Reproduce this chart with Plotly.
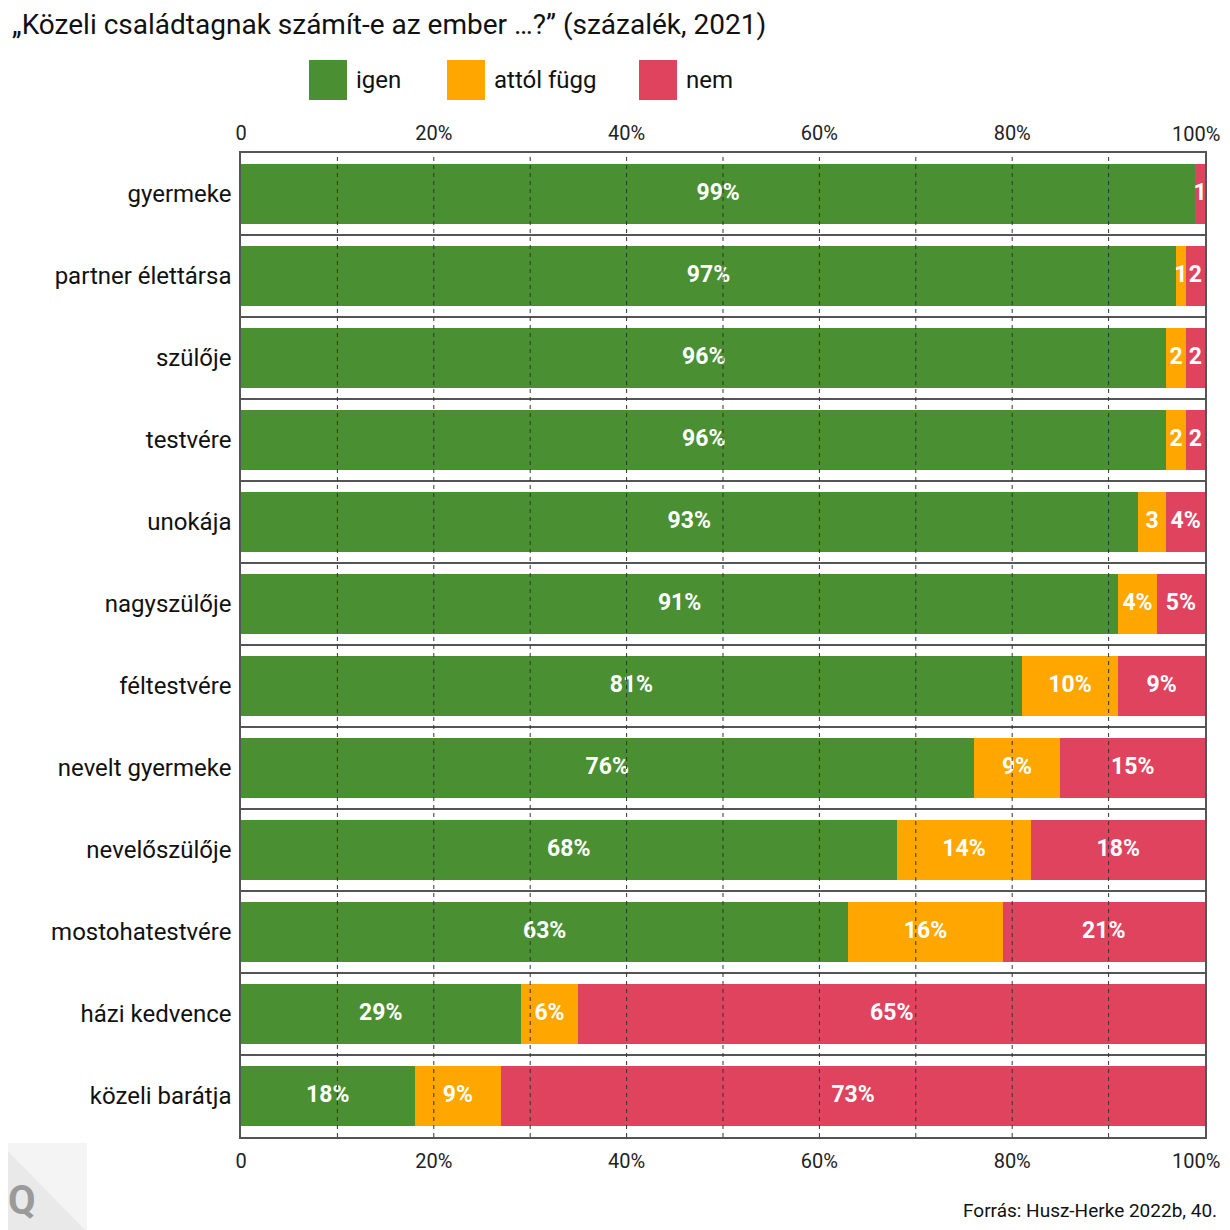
import plotly.graph_objects as go

categories = ["gyermeke", "partner élettársa", "szülője", "testvére", "unokája",
              "nagyszülője", "féltestvére", "nevelt gyermeke", "nevelőszülője",
              "mostohatestvére", "házi kedvence", "közeli barátja"]
igen = [99, 97, 96, 96, 93, 91, 81, 76, 68, 63, 29, 18]
attol_fugg = [0, 1, 2, 2, 3, 4, 10, 9, 14, 16, 6, 9]
nem = [1, 2, 2, 2, 4, 5, 9, 15, 18, 21, 65, 73]

series_names = ["igen", "attól függ", "nem"]
series_values = [igen, attol_fugg, nem]
colors = ["#4a8f32", "#ffa600", "#e0435e"]

tick_vals = [0, 10, 20, 30, 40, 50, 60, 70, 80, 90, 100]
tick_text = ["0", "", "20%", "", "40%", "", "60%", "", "80%", "", "100%"]

# page has an 8px body margin; work in screenshot pixels and convert
OFF = 8
W, H = 1230 - OFF, 1230 - OFF
L, R, T, B = 241 - OFF, 1205 - OFF, 153 - OFF, 1137 - OFF
FONT = "Roboto"

ypos = list(range(len(categories)))

fig = go.Figure()
for name, vals, col in zip(series_names, series_values, colors):
    fig.add_trace(go.Bar(
        y=ypos, x=vals, name=name, orientation="h",
        marker=dict(color=col, line=dict(width=0)),
        width=0.72, showlegend=False, hoverinfo="skip"))

# value labels at segment centres
lx, ly, lt = [], [], []
for i in range(len(categories)):
    start = 0
    for vals in series_values:
        v = vals[i]
        if v > 0:
            lx.append(start + v / 2)
            ly.append(i)
            lt.append(f"{v}%" if v >= 4 else str(v))
        start += v
fig.add_trace(go.Scatter(
    x=lx, y=ly, text=lt, mode="text",
    textfont=dict(family=FONT, size=23, color="white", weight="bold"),
    showlegend=False, hoverinfo="skip", cliponaxis=True))

# invisible trace for top axis
fig.add_trace(go.Scatter(x=[0, 100], y=[0, 0], xaxis="x2", mode="markers",
                         marker=dict(opacity=0), showlegend=False, hoverinfo="skip"))

# last tick label is placed separately (right-aligned so it stays inside the page)
axis_ticktext = tick_text[:-1] + [""]
TICKFONT = dict(family=FONT, size=20, color="#222")
axis_common = dict(range=[0, 100], tickmode="array", tickvals=tick_vals, ticktext=axis_ticktext,
                   showgrid=False, zeroline=False, ticks="", automargin=False,
                   tickfont=TICKFONT)
fig.update_layout(
    width=W, height=H,
    margin=dict(l=L, r=W - R, t=T, b=H - B, pad=0, autoexpand=False),
    paper_bgcolor="white", plot_bgcolor="white",
    barmode="stack", bargap=0.28,
    xaxis=dict(**axis_common, side="bottom", showline=True, linecolor="#555", linewidth=1.5,
               mirror=True, ticklabelstandoff=5),
    xaxis2=dict(**axis_common, side="top", overlaying="x", anchor="y",
                showline=False, ticklabelstandoff=8),
    yaxis=dict(range=[len(categories) - 0.5, -0.5], tickmode="array", tickvals=ypos,
               ticktext=categories, showgrid=False, zeroline=False, ticks="", automargin=False,
               showline=True, linecolor="#555", linewidth=1.5, mirror=True,
               tickfont=dict(family=FONT, size=24, color="#111"), ticklabelstandoff=3,
               minor=dict(tick0=0.5, dtick=1, showgrid=True, gridcolor="#555", gridwidth=1.5)),
    showlegend=False,
)

def px(x):
    return (x - OFF - L) / (R - L)

def py(y):
    return (B - (y - OFF)) / (B - T)

shapes = []
# dashed vertical gridlines drawn above bars
for v in tick_vals[1:-1]:
    shapes.append(dict(type="line", xref="x", yref="paper", x0=v, x1=v, y0=0, y1=1,
                       layer="above", line=dict(color="#333", width=1, dash="4px,4px")))

annotations = []
for yy in (134, 1161):
    annotations.append(dict(xref="x", yref="paper", x=tick_vals[-1], y=py(yy),
                            text=tick_text[-1], showarrow=False, xanchor="right",
                            yanchor="middle", xshift=17, font=TICKFONT))

# legend
legend_items = [(309, "igen"), (447, "attól függ"), (639, "nem")]
for (x0, name), col in zip(legend_items, colors):
    shapes.append(dict(type="rect", xref="paper", yref="paper",
                       x0=px(x0), x1=px(x0 + 38), y0=py(100), y1=py(60),
                       fillcolor=col, line=dict(width=0)))
    annotations.append(dict(xref="paper", yref="paper", x=px(x0 + 45), y=py(80),
                            text=name, showarrow=False, xanchor="left", yanchor="middle",
                            font=dict(family=FONT, size=24, color="#111")))

# logo
shapes.append(dict(type="rect", xref="paper", yref="paper", x0=px(0), x1=px(87),
                   y0=py(1232), y1=py(1143), fillcolor="#e9e9e9", line=dict(width=0), layer="below"))
shapes.append(dict(type="path", xref="paper", yref="paper",
                   path=f"M {px(0)},{py(1143)} L {px(87)},{py(1143)} L {px(87)},{py(1232)} Z",
                   fillcolor="#f4f4f4", line=dict(width=0), layer="below"))
annotations.append(dict(xref="paper", yref="paper", x=px(22), y=py(1200), text="<b>Q</b>",
                        showarrow=False, xanchor="center", yanchor="middle",
                        font=dict(family=FONT, size=40, color="#9a9a9a")))

# title
annotations.append(dict(xref="paper", yref="paper", x=px(10), y=py(25),
                        text="„Közeli családtagnak számít-e az ember …?” (százalék, 2021)",
                        showarrow=False, xanchor="left", yanchor="middle",
                        font=dict(family=FONT, size=28, color="#111")))
# source
annotations.append(dict(xref="paper", yref="paper", x=px(1219), y=py(1210),
                        text="Forrás: Husz-Herke 2022b, 40.",
                        showarrow=False, xanchor="right", yanchor="middle",
                        font=dict(family=FONT, size=19, color="#111")))

fig.update_layout(shapes=shapes, annotations=annotations)
fig.write_html("out.html")
